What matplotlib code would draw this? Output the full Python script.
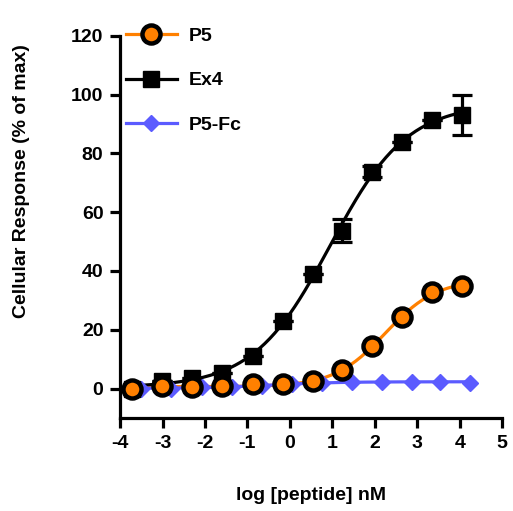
import numpy as np
import matplotlib.pyplot as plt

plt.rcParams['font.family'] = ['Liberation Sans', 'DejaVu Sans']
plt.rcParams['font.weight'] = 'bold'
plt.rcParams['axes.unicode_minus'] = False

# data
log_conc = [-3.72, -3.01, -2.30, -1.59, -0.88, -0.17, 0.54, 1.22, 1.93, 2.64, 3.35, 4.06]
log_conc_fc = [-3.50, -2.79, -2.08, -1.37, -0.66, 0.05, 0.75, 1.46, 2.17, 2.88, 3.54, 4.25]
p5 = [0.0, 0.8, 0.7, 0.8, 1.4, 1.4, 2.5, 6.2, 14.4, 24.2, 32.9, 34.8]
ex4 = [0.0, 2.5, 3.6, 5.3, 11.0, 23.1, 39.1, 53.7, 73.8, 83.7, 91.5, 93.2]
ex4_err = [0, 0, 0, 0, 0, 0, 0, 4.0, 2.0, 0, 0, 6.8]
p5fc = [0.0, 0.0, 0.7, 0.7, 0.9, 1.4, 2.0, 2.4, 2.4, 2.4, 2.2, 2.0]

labels = ['P5', 'Ex4', 'P5-Fc']
colors = ['#FF8000', 'black', '#5B5BFF']


def fit_4pl(x, y):
    # crude 4 parameter logistic fit: grid over ec50/hill, linear lstsq for bottom/top
    x = np.asarray(x)
    y = np.asarray(y)
    best = None
    for ec in np.linspace(-2, 6, 161):
        for h in np.linspace(0.2, 2.0, 91):
            s = 1.0 / (1.0 + 10 ** ((ec - x) * h))
            A = np.column_stack([np.ones_like(s), s])
            coef, *_ = np.linalg.lstsq(A, y, rcond=None)
            r = np.sum((A @ coef - y) ** 2)
            if best is None or r < best[0]:
                best = (r, ec, h, coef)
    _, ec, h, coef = best
    return lambda t: coef[0] + coef[1] / (1.0 + 10 ** ((ec - t) * h))


fig = plt.figure(figsize=(5.13, 5.11), dpi=100)
ax = fig.add_axes([0.234, 0.182, 0.745, 0.748])

series = [(log_conc, p5), (log_conc, ex4), (log_conc_fc, p5fc)]
for (x, y), c in zip(series, colors):
    f = fit_4pl(x, y)
    t = np.linspace(min(x), max(x), 200)
    ax.plot(t, f(t), color=c, lw=2.3, zorder=2)

ax.errorbar(log_conc, ex4, yerr=ex4_err, fmt='none', ecolor='black',
            elinewidth=2.3, capsize=7, capthick=2.3, zorder=3)

ax.plot(log_conc_fc, p5fc, 'D', color=colors[2], ms=8, mec=colors[2], zorder=3)
ax.plot(log_conc, ex4, 's', color='black', ms=11, zorder=4)
ax.plot(log_conc, p5, 'o', mfc=colors[0], mec='black', mew=3.2, ms=13, zorder=5)

# legend handles with lines
lh = [
    plt.Line2D([], [], color=colors[0], lw=2.3, marker='o', mfc=colors[0], mec='black', mew=3.2, ms=13),
    plt.Line2D([], [], color='black', lw=2.3, marker='s', ms=11),
    plt.Line2D([], [], color=colors[2], lw=2.3, marker='D', ms=8),
]
ax.legend(lh, labels, loc='upper left', bbox_to_anchor=(-0.03, 1.068), frameon=False,
          fontsize=14, handlelength=2.6, handletextpad=0.6, labelspacing=1.38)

ax.set_xlim(-4, 5)
ax.set_ylim(-10, 120)
ax.set_xticks(range(-4, 6))
ax.set_yticks(range(0, 121, 20))
for s in ['top', 'right']:
    ax.spines[s].set_visible(False)
for s in ['left', 'bottom']:
    ax.spines[s].set_linewidth(2.3)
ax.tick_params(width=2.3, length=7, labelsize=14, pad=5)
for lab in ax.get_xticklabels() + ax.get_yticklabels():
    lab.set_fontweight('bold')

ax.set_xlabel('log [peptide] nM', fontsize=14, fontweight='bold')
ax.set_ylabel('Cellular Response (% of max)', fontsize=14, fontweight='bold')
ax.xaxis.set_label_coords(0.5, -0.18)
ax.yaxis.set_label_coords(-0.235, 0.62)

fig.savefig('out.png', dpi=100)
